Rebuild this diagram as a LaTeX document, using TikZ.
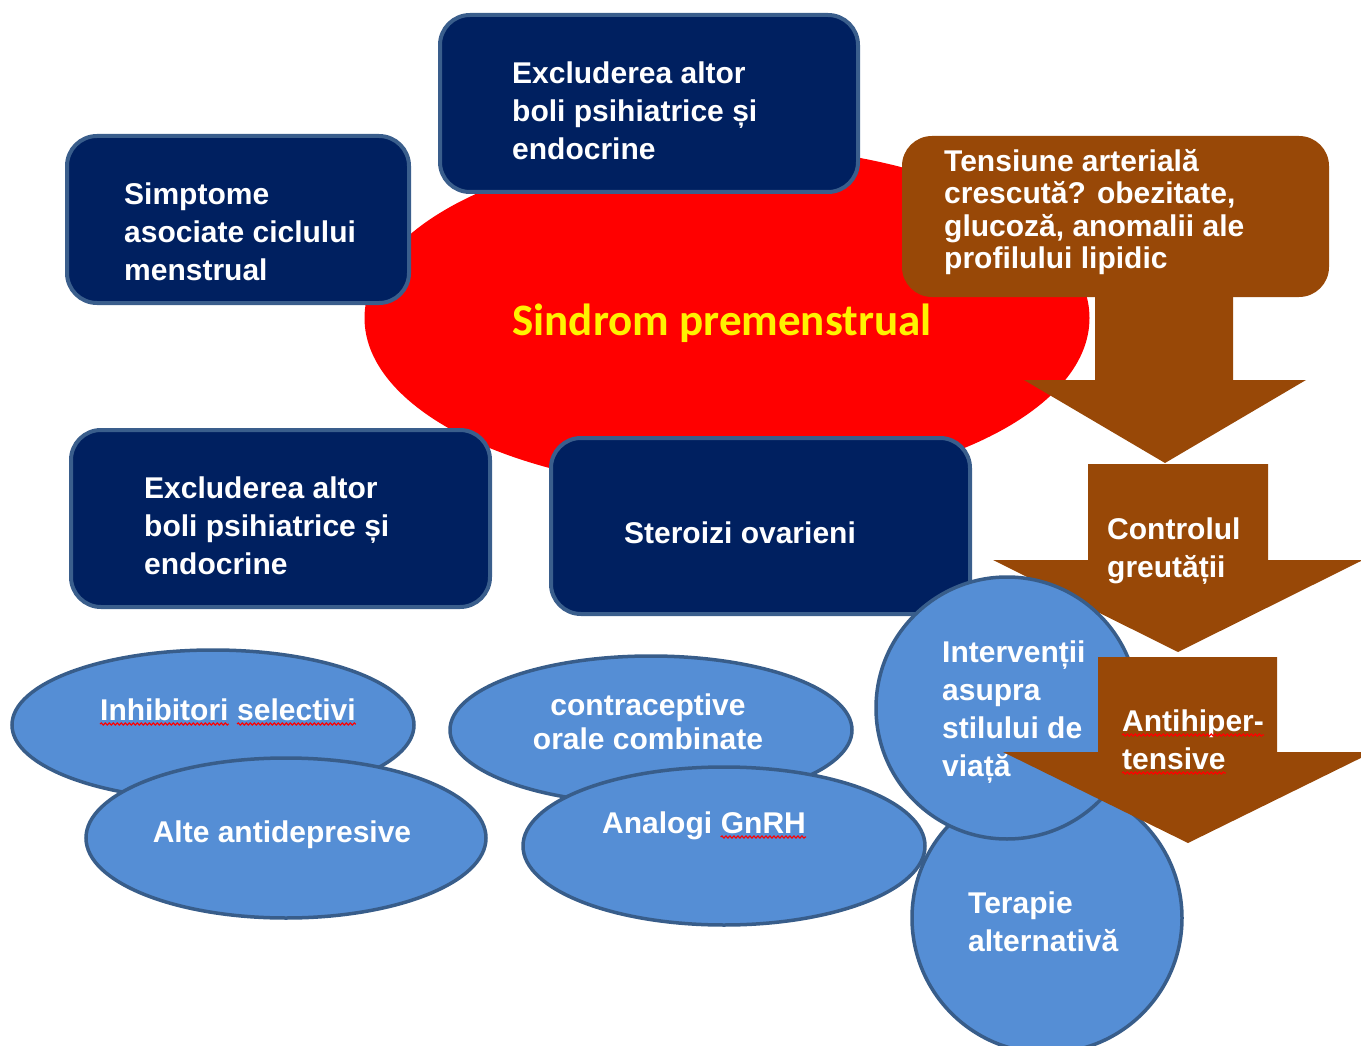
\documentclass[tikz,border=0pt]{standalone}
\usepackage{fontspec}
\setmainfont{Liberation Sans}
\newfontfamily\calib{Carlito}
\usetikzlibrary{shapes.geometric,calc,decorations.pathmorphing}
\definecolor{navy}{HTML}{002060}
\definecolor{boxedge}{HTML}{3A5E8C}
\definecolor{brownc}{HTML}{984807}
\definecolor{bluefill}{HTML}{558ED5}
\definecolor{blueedge}{HTML}{385D8A}
\begin{document}
\begin{tikzpicture}[x=1pt,y=-1pt,
  navybox/.style={rectangle, rounded corners=30pt, draw=boxedge, line width=4pt, fill=navy, inner sep=0},
  brownbox/.style={rectangle, rounded corners=30pt, fill=brownc, inner sep=0},
  blueell/.style={ellipse, draw=blueedge, line width=3.5pt, fill=bluefill, inner sep=0},
  bluecirc/.style={circle, draw=blueedge, line width=3.5pt, fill=bluefill, inner sep=0},
  brownarrow/.style={fill=brownc},
  lbl/.style={font=\fontsize{30}{38}\selectfont\bfseries, text=white, align=left, inner sep=0},
  lblc/.style={font=\fontsize{30}{34}\selectfont\bfseries, text=white, align=center, inner sep=0},
  squig/.style={draw=red, line width=1.1pt, decorate, decoration={snake, amplitude=1.1pt, segment length=4pt}}
]
\useasboundingbox (0,0) rectangle (1361,1046);
\clip (0,0) rectangle (1361,1046);

% central red ellipse
\node[ellipse, fill=red, inner sep=0, minimum width=725pt, minimum height=344pt] (pms) at (727,318) {};

% dark blue boxes
\node[navybox, minimum width=418pt, minimum height=177pt] (top) at (649,103.5) {};
\node[navybox, minimum width=342pt, minimum height=167pt] (simp) at (238,219.5) {};
\node[navybox, minimum width=419pt, minimum height=177pt] (excl) at (280.5,518.5) {};
\node[navybox, minimum width=419pt, minimum height=176pt] (ster) at (760.5,526) {};

% brown box
\node[brownbox, minimum width=427pt, minimum height=161pt] (tens) at (1115.5,216.5) {};

% arrows 1 and 2
\fill[brownarrow] (1095,290) -- (1233,290) -- (1233,380) -- (1306,380) -- (1165,463) -- (1024,380) -- (1095,380) -- cycle;
\fill[brownarrow] (1088,464) -- (1268,464) -- (1268,560) -- (1363,560) -- (1178,652) -- (993,560) -- (1088,560) -- cycle;

% blue ellipses
\node[blueell, minimum width=402pt, minimum height=150pt] (inh) at (213,725) {};
\node[blueell, minimum width=400pt, minimum height=160pt] (alte) at (286,838) {};
\node[blueell, minimum width=402pt, minimum height=148pt] (contr) at (651,730) {};
\node[blueell, minimum width=402pt, minimum height=158pt] (anal) at (724,846) {};

% circles
\node[bluecirc, minimum size=270pt] (terap) at (1047,918) {};
\node[bluecirc, minimum size=262pt] (interv) at (1007,708) {};

% texts
\node[lbl, anchor=west] (ttop) at (512,111) {Excluderea altor\\boli psihiatrice și\\endocrine};
\node[lbl, anchor=west] (tsimp) at (124,232) {Simptome\\asociate ciclului\\menstrual};
\node[lbl, anchor=west] (texcl) at (144,526) {Excluderea altor\\boli psihiatrice și\\endocrine};
\node[lbl, anchor=center] (tster) at (740,533) {Steroizi ovarieni};
\node[font=\fontsize{30}{32.5}\selectfont\bfseries, text=white, align=left, inner sep=0, anchor=west] (ttens) at (944,212) {Tensiune arterială\\crescută? obezitate,\\glucoză, anomalii ale\\profilului lipidic};
\node[font=\calib\fontsize{45}{50}\selectfont\bfseries, text=yellow, inner sep=0] (tpms) at (722,323) {Sindrom premenstrual};
\node[lbl, anchor=west] (tinterv) at (942,712) {Intervenții\\asupra\\stilului de\\viață};

% arrow 3 (over the circle)
\fill[brownarrow] (1098,657) -- (1277,657) -- (1277,752) -- (1373,752) -- (1188,843) -- (1003,752) -- (1098,752) -- cycle;

\node[lbl, anchor=west] (tctrl) at (1107,551) {Controlul\\greutății};
\node[lbl, anchor=base west] (tanti1) at (1122,731) {Antihiper-};
\node[lbl, anchor=base west] (tanti2) at (1122,769) {tensive};
\node[lbl, anchor=west] (tterap) at (968,922) {Terapie\\alternativă};

\node[lbl, anchor=base west] (tinh1) at (100,720) {Inhibitori};
\node[lbl, anchor=base west] (tinh2) at ($(tinh1.base east)+(8.3,0)$) {selectivi};
\node[lbl, anchor=center] (talte) at (282,835) {Alte antidepresive};
\node[lblc] (tcontr) at (648,722) {contraceptive\\orale combinate};
\node[lbl, anchor=base west] (tan1) at (602,833) {Analogi};
\node[lbl, anchor=base west] (tan2) at ($(tan1.base east)+(8.3,0)$) {GnRH};

% spell-check underlines
\draw[squig] ($(tinh1.base west)+(0,4)$) -- ($(tinh1.base east)+(0,4)$);
\draw[squig] ($(tinh2.base west)+(0,4)$) -- ($(tinh2.base east)+(0,4)$);
\draw[squig] ($(tan2.base west)+(0,4)$) -- ($(tan2.base east)+(0,4)$);
\draw[squig] ($(tanti1.base west)+(0,4)$) -- ($(tanti1.base east)+(0,4)$);
\draw[squig] ($(tanti2.base west)+(0,4)$) -- ($(tanti2.base east)+(0,4)$);
\end{tikzpicture}
\end{document}
